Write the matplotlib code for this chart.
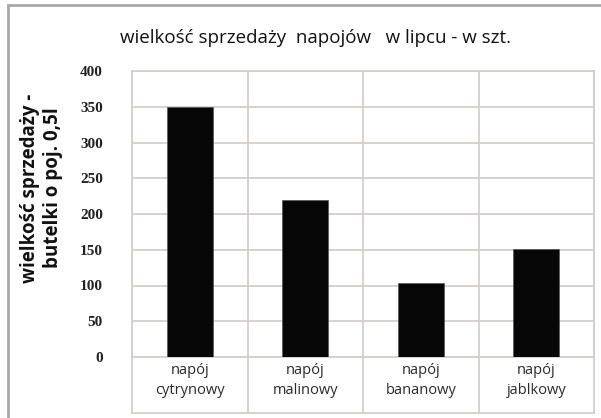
import matplotlib.pyplot as plt
import matplotlib.patches as mpatches
from matplotlib.transforms import blended_transform_factory

categories = ["napój\ncytrynowy", "napój\nmalinowy", "napój\nbananowy", "napój\njablkowy"]
values = [350, 220, 104, 151]
yticks = [0, 50, 100, 150, 200, 250, 300, 350, 400]

title = "wielkość sprzedaży  napojów   w lipcu - w szt."
ylabel = "wielkość sprzedaży -\nbutelki o poj. 0,5l"

grid_col = "#d2cfcb"
narrow = ["Liberation Sans Narrow", "Open Sans", "DejaVu Sans"]

fig = plt.figure(figsize=(6.01, 4.18), dpi=100)
ax = fig.add_axes([132 / 601, 1 - 357 / 418, (594 - 132) / 601, (357 - 71) / 418])

x = list(range(len(categories)))
ax.bar(x, values, width=0.4, color="#070707", edgecolor="#555555", linewidth=0.5, zorder=3)

ax.set_xlim(-0.5, len(categories) - 0.5)
ax.set_ylim(0, 400)
ax.set_yticks(yticks)
ax.set_yticklabels([str(v) for v in yticks], family="Liberation Serif",
                   fontsize=11, fontweight="bold", color="#222222")
ax.set_xticks(x)
ax.set_xticklabels(categories, family=narrow, fontsize=10.5, color="#2a2a2a",
                   linespacing=1.45)
ax.set_xticks([i - 0.5 for i in range(len(categories) + 1)], minor=True)
ax.tick_params(axis="both", which="both", length=0)
ax.tick_params(axis="y", pad=21)
ax.tick_params(axis="x", pad=4)
ax.grid(axis="y", color=grid_col, linewidth=1.3, zorder=0)
ax.grid(axis="x", which="minor", color=grid_col, linewidth=1.3, zorder=0)
ax.grid(axis="x", which="major", visible=False)
for s in ax.spines.values():
    s.set_color(grid_col)
    s.set_linewidth(1.3)

# table-like lines under the category labels
low = -56 / 286
trans = blended_transform_factory(ax.transData, ax.transAxes)
for i in range(len(categories) + 1):
    ax.plot([i - 0.5, i - 0.5], [0, low], transform=trans, color=grid_col,
            linewidth=1.3, clip_on=False)
ax.plot([-0.5, len(categories) - 0.5], [low, low], transform=trans,
        color=grid_col, linewidth=1.3, clip_on=False)

fig.text(316 / 601, 1 - 38 / 418, title, ha="center", va="center",
         family=narrow, fontsize=13.5, color="#111111")
fig.text(42 / 601, 1 - 188 / 418, ylabel, ha="center", va="center",
         rotation=90, family=["Open Sans", "DejaVu Sans"], fontsize=13.5,
         fontweight="bold", color="#111111", linespacing=1.2)

# outer chart frame
frame = mpatches.Rectangle((8 / 601, -0.05), 1.2, 1.05 - 5 / 418,
                           transform=fig.transFigure, fill=False,
                           edgecolor="#a8a8a8", linewidth=2, clip_on=False)
fig.patches.append(frame)

fig.savefig("out.png", dpi=100)
